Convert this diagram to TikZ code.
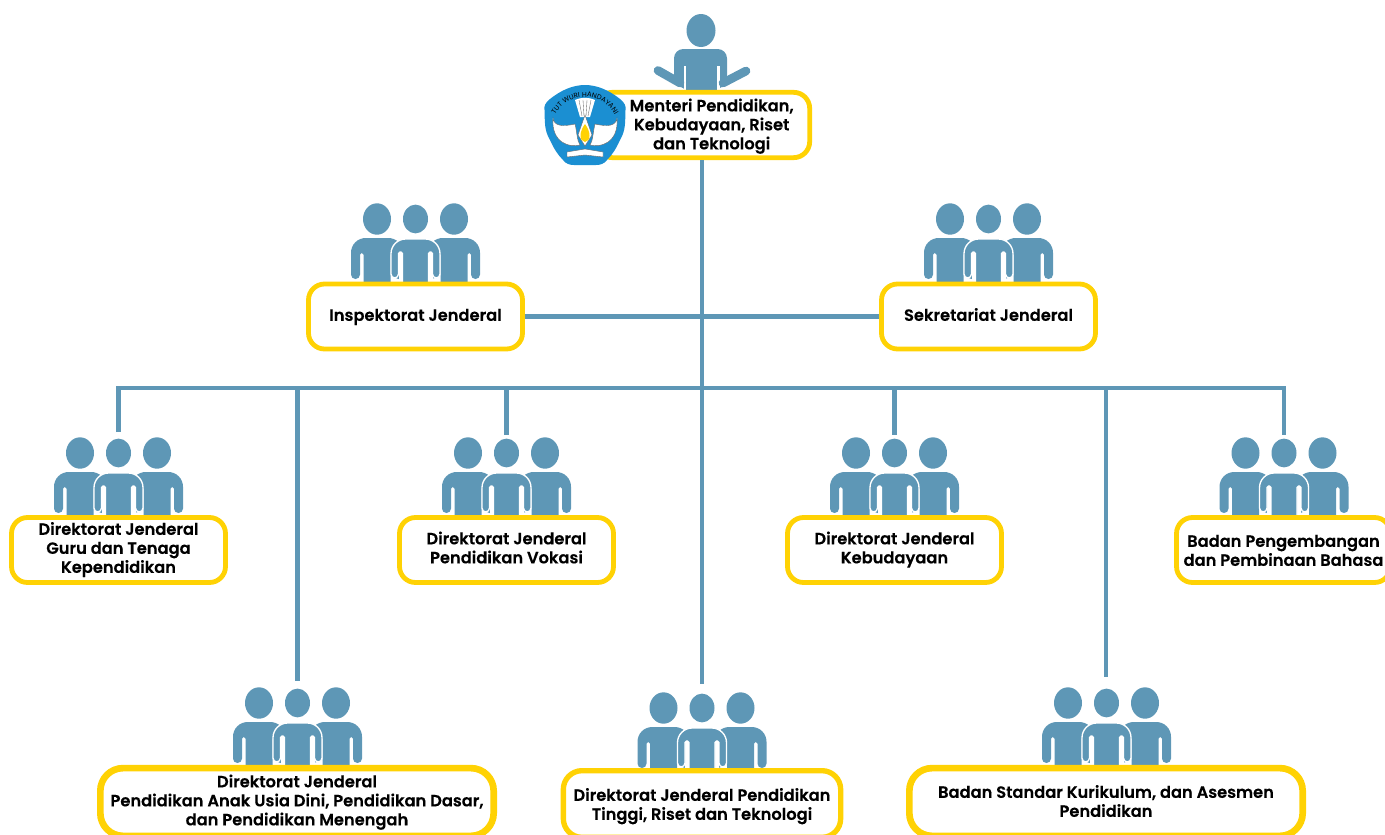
\documentclass[tikz,border=0pt]{standalone}
\usepackage{fontspec}
\setmainfont{Poppins}[BoldFont={Poppins SemiBold},BoldFeatures={FakeBold=0.25}]
\usetikzlibrary{decorations.text}
\definecolor{steel}{HTML}{5E97B6}
\definecolor{gold}{HTML}{FFD204}
\definecolor{shield}{HTML}{1B8FD2}
\newcommand\tb[2]{\rule{0pt}{\dimexpr14pt+#1pt*3/4\relax}#2\rule[-\dimexpr6pt-#1pt*3/4\relax]{0pt}{\dimexpr6pt-#1pt*3/4\relax}}
\tikzset{
  x=0.75pt,y=-0.75pt,
  orgbox/.style={draw=gold,line width=3.6pt,fill=white,rounded corners=12pt,inner sep=0pt,align=center,
    font=\bfseries\fontsize{12.2pt}{14.25pt}\selectfont,text=black,minimum width=160.5pt,minimum height=48.75pt},
  widebox/.style={orgbox,line width=5pt,rounded corners=17pt,minimum width=295pt,minimum height=50.8pt},
  conn/.style={draw=steel,line width=3.4pt},
  person/.pic={
    \fill[steel] (0,-19) ellipse [x radius=14,y radius=15.7];
    \fill[steel] [rounded corners=3.3pt] (-21.5,41) -- (-26,41) [rounded corners=11pt] -- (-26,0) -- (26,0) [rounded corners=3.3pt] -- (26,41) -- (17,41) [rounded corners=1.2pt] -- (17,15) -- (13.5,15) [sharp corners] -- (13.5,50) -- (-13.5,50) [rounded corners=1.2pt] -- (-13.5,15) -- (-17,15) [rounded corners=3.3pt] -- (-17,41) -- (-21.5,41);
  },
  frontperson/.pic={
    \fill[steel] (0,-20) ellipse [x radius=12.5,y radius=14.4];
    \fill[white] (-17,10) rectangle (-13,41);
    \fill[white] (13,10) rectangle (17,41);
    \filldraw[steel,draw=white,line width=1pt] [rounded corners=3pt] (-20.5,39) -- (-24.5,39) [rounded corners=11pt] -- (-24.5,0) -- (24.5,0) [rounded corners=3pt] -- (24.5,39) -- (17,39) [rounded corners=1.2pt] -- (17,13) -- (13,13) [sharp corners] -- (13,50) -- (-13,50) [rounded corners=1.2pt] -- (-13,13) -- (-17,13) [rounded corners=3pt] -- (-17,39) -- (-20.5,39);
  },
  trio/.pic={
    \pic at (-38.5,19) {person};
    \pic at (38.5,19) {person};
    \pic at (0,20) {frontperson};
  }
}
\begin{document}
\begin{tikzpicture}
\useasboundingbox (0,0) rectangle (1385,835);
\clip (0,0) rectangle (1385,835);
% connector hubs and free ends
\coordinate (hubA) at (702,388);
\coordinate (spineEnd) at (702,684);
\coordinate (endA) at (118.5,432);
\coordinate (endB) at (297.5,681);
\coordinate (endC) at (506.5,435);
\coordinate (endE) at (894.5,435);
\coordinate (endF) at (1106,677);
\coordinate (endG) at (1284,435);
\coordinate (hubL) at (118.5,388);
\coordinate (hubB) at (297.5,388);
\coordinate (hubC) at (506.5,388);
\coordinate (hubE) at (894.5,388);
\coordinate (hubF) at (1106,388);
\coordinate (hubR) at (1284,388);
% minister figure
\fill[steel] (701,30.5) ellipse [x radius=14.5,y radius=16.5];
\fill[steel,rounded corners=7pt] (686,95) -- (674,95) -- (674,49) -- (727,49) -- (727,95) -- (717,95);
\fill[white] (683.5,66) rectangle (686,95);
\fill[white] (717,66) rectangle (719.5,95);
\fill[white] (660,75.5) -- (686,90) -- (686,100) -- (660,100) -- cycle;
\fill[white] (741,75.5) -- (717,90) -- (717,100) -- (741,100) -- cycle;
\draw[steel,line width=6.5pt,line cap=round] (658,70.5) -- (680,83);
\draw[steel,line width=6.5pt,line cap=round] (746,71) -- (723,83);
\fill[steel] (686,60) rectangle (717,95);
% groups
\pic at (415.5,219) {trio};
\pic at (988.5,219) {trio};
\pic at (118.5,453) {trio};
\pic at (506.5,453) {trio};
\pic at (894.5,453) {trio};
\pic at (1284,453) {trio};
\pic at (297.5,703) {trio};
\pic at (702,708) {trio};
\pic at (1106.5,703) {trio};
% boxes
\node[orgbox,minimum width=160pt,minimum height=49pt] (minister) at (703,125) {\tb{0}{\hspace*{13pt}Menteri Pendidikan,\\\hspace*{13pt}Kebudayaan, Riset\\\hspace*{13pt}dan Teknologi}};
\node[orgbox] (insp) at (415.5,316.5) {\tb{-1}{Inspektorat Jenderal}};
\node[orgbox] (sek) at (988.5,316.5) {\tb{-1}{Sekretariat Jenderal}};
\node[orgbox] (dgA) at (118.5,550) {\tb{-1.5}{Direktorat Jenderal\\Guru dan Tenaga\\Kependidikan}};
\node[orgbox] (dgC) at (506.5,550) {\tb{-1.5}{Direktorat Jenderal\\Pendidikan Vokasi}};
\node[orgbox] (dgE) at (894.5,550) {\tb{-1.5}{Direktorat Jenderal\\Kebudayaan}};
\node[orgbox] (dgG) at (1283.5,550) {\tb{1}{Badan Pengembangan\\dan Pembinaan Bahasa}};
\node[widebox] (dgB) at (297,802) {\tb{-1}{Direktorat Jenderal\\Pendidikan Anak Usia Dini, Pendidikan Dasar,\\dan Pendidikan Menengah}};
\node[orgbox,line width=4pt,rounded corners=14pt,minimum width=208pt,minimum height=50pt] (dgD) at (702,804) {\tb{1}{Direktorat Jenderal Pendidikan\\Tinggi, Riset dan Teknologi}};
\node[widebox] (dgF) at (1106,802) {\tb{0}{Badan Standar Kurikulum, dan Asesmen\\Pendidikan}};
% connectors
\draw[conn] (minister.south -| hubA) -- (spineEnd);
\draw[conn] (insp) -- (sek);
\draw[conn] (endA) -- (hubL) -- (hubR) -- (endG);
\draw[conn] (hubB) -- (endB);
\draw[conn] (hubC) -- (endC);
\draw[conn] (hubE) -- (endE);
\draw[conn] (hubF) -- (endF);
% logo
\fill[shield] (585,85) .. controls (598,85) and (610,91) .. (620,99) .. controls (625,103) and (626,106) .. (625.5,110) .. controls (625,122) and (626,130) .. (620,140) .. controls (616,149) and (612,155) .. (607,160) .. controls (604,164) and (600,165) .. (596,165) -- (574,165) .. controls (570,165) and (566,164) .. (563,160) .. controls (558,155) and (554,149) .. (550,140) .. controls (544,130) and (545,122) .. (544.5,110) .. controls (544,106) and (545,103) .. (550,99) .. controls (560,91) and (572,85) .. (585,85) -- cycle;
\path[postaction={decorate,decoration={text along path,text align=center,text={|\fontsize{5.2pt}{5.2pt}\selectfont\color{black}|TUT WURI HANDAYANI}}}]
  (551,131) arc [start angle=180,end angle=360,radius=34];
% crown of feathers
\fill[white] (575,100) .. controls (582,97) and (588,97) .. (595,100) -- (590,117) -- (580,117) -- cycle;
\foreach \qa/\qb in {579/582,583/584,587/586,591/588}{\draw[black!60,line width=.25pt] (\qa,100) -- (\qb,116);}
% wings
\filldraw[fill=white,draw=black!60,line width=.3pt] (553,118) .. controls (554,126) and (562,127) .. (575,124) .. controls (577,132) and (577,141) .. (580,145) .. controls (570,148) and (551,143) .. (553,118) -- cycle;
\filldraw[fill=white,draw=black!60,line width=.3pt] (617,118) .. controls (616,126) and (608,127) .. (595,124) .. controls (593,132) and (593,141) .. (590,145) .. controls (600,148) and (619,143) .. (617,118) -- cycle;
% flame
\filldraw[fill=white,draw=black!60,line width=.3pt] (585,115) -- (592,135) -- (585,146) -- (578,135) -- cycle;
\fill[gold] (585,124) .. controls (591,132) and (591,141) .. (585,142) .. controls (579,141) and (579,132) .. (585,124) -- cycle;
% book
\filldraw[fill=white,draw=black!60,line width=.3pt] (567,152) -- (585,149) -- (603,152) -- (603,157) -- (585,155) -- (567,157) -- cycle;
\end{tikzpicture}
\end{document}
